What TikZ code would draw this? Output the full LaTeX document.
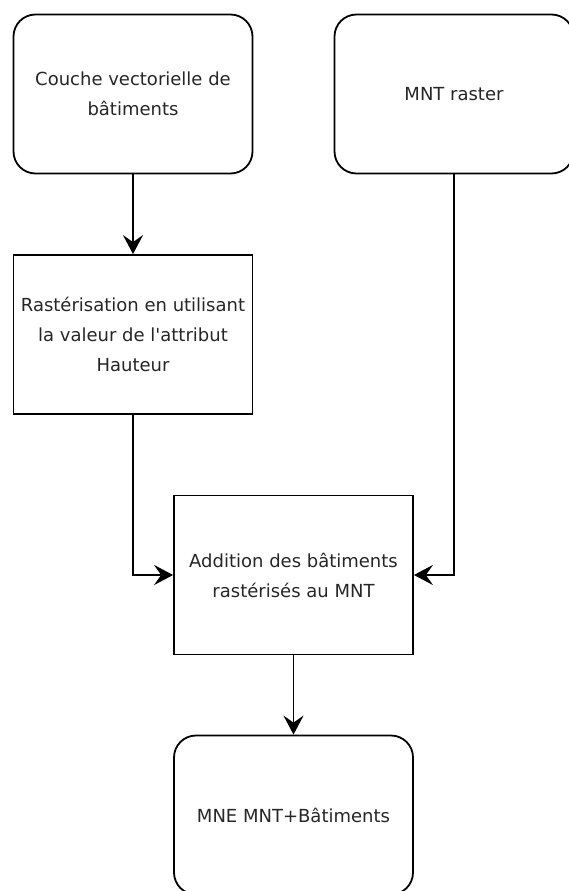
\documentclass[tikz,border=0pt]{standalone}
\usepackage{fontspec}
\setmainfont{DejaVu Sans}
\usetikzlibrary{arrows.meta}
\tikzset{
  box/.style={draw, line width=1.8pt, minimum width=239pt, minimum height=159pt, align=center, inner sep=0pt},
  roundbox/.style={box, rounded corners=22pt},
  sqbox/.style={box},
  arr/.style={-{Stealth[length=19pt, width=20pt, inset=7pt]}, line width=1.8pt}
}
\begin{document}
\begin{tikzpicture}[x=1pt, y=-1pt, font=\fontsize{18}{30}\selectfont, text=black!85]
  \useasboundingbox (0,0) rectangle (568,891);
  \node[roundbox] (vect) at (133,94) {Couche vectorielle de\\bâtiments};
  \node[roundbox] (mnt) at (454,94) {MNT raster};
  \node[sqbox] (rast) at (133,334.5) {Rastérisation en utilisant\\la valeur de l\textquotesingle attribut\\Hauteur};
  \node[sqbox] (addition) at (293.5,575) {Addition des bâtiments\\rastérisés au MNT};
  \node[roundbox] (mne) at (293.5,815) {MNE MNT+Bâtiments};
  \draw[arr] (vect) -- (rast);
  \draw[arr] (rast.south) |- (addition.west);
  \draw[arr] (mnt.south) |- (addition.east);
  \draw[arr] (addition) -- (mne);
\end{tikzpicture}
\end{document}
